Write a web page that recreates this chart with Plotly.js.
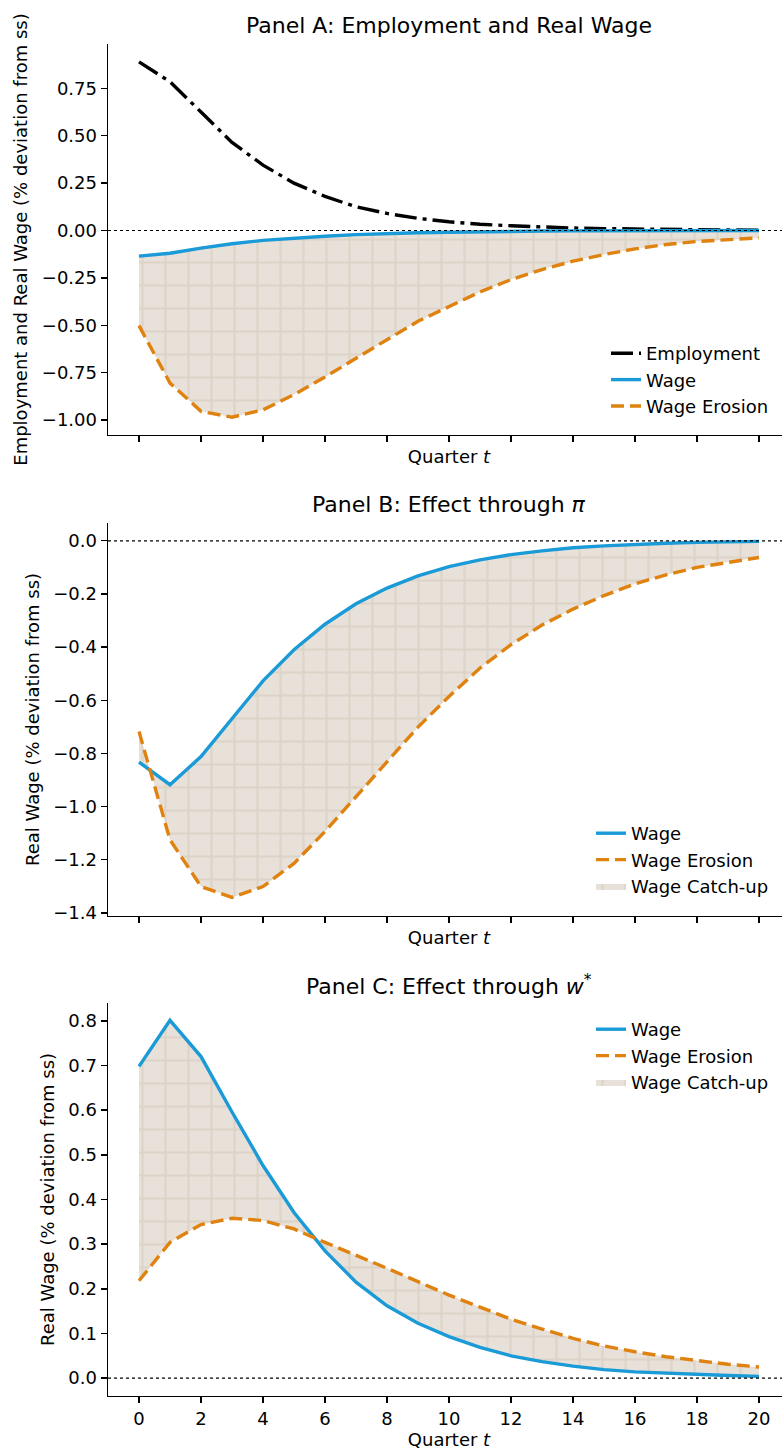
<!DOCTYPE html>
<html>
<head>
<meta charset="utf-8">
<script src="https://cdn.plot.ly/plotly-3.0.1.min.js"></script>
<style>
html,body{margin:0;padding:0;overflow:hidden;background:#fff;}
#chart{width:790px;height:1452px;}
</style>
</head>
<body>
<div id="chart"></div>
<script>
// ---- data ----
const quarters = [0,1,2,3,4,5,6,7,8,9,10,11,12,13,14,15,16,17,18,19,20];
const xTickVals = [0,2,4,6,8,10,12,14,16,18,20];

// Panel A
const employmentA = [0.89,0.785,0.625,0.465,0.345,0.25,0.18,0.125,0.09,0.064,0.046,0.033,0.025,0.018,0.013,0.010,0.007,0.005,0.004,0.003,0.002];
const wageA = [-0.135,-0.12,-0.093,-0.07,-0.052,-0.04,-0.03,-0.022,-0.016,-0.012,-0.009,-0.006,-0.005,-0.003,-0.002,-0.002,-0.001,-0.001,-0.001,-0.001,0.0];
const erosionA = [-0.502,-0.805,-0.954,-0.985,-0.946,-0.866,-0.773,-0.673,-0.576,-0.479,-0.40,-0.324,-0.259,-0.206,-0.162,-0.127,-0.097,-0.074,-0.058,-0.048,-0.039];

// Panel B
const wageB = [-0.833,-0.918,-0.812,-0.667,-0.527,-0.41,-0.314,-0.237,-0.178,-0.132,-0.097,-0.072,-0.052,-0.038,-0.026,-0.019,-0.013,-0.009,-0.006,-0.004,-0.002];
const erosionB = [-0.718,-1.125,-1.301,-1.342,-1.301,-1.214,-1.094,-0.962,-0.83,-0.701,-0.586,-0.479,-0.391,-0.317,-0.257,-0.206,-0.162,-0.128,-0.10,-0.08,-0.063];

// Panel C
const wageC = [0.698,0.801,0.72,0.596,0.476,0.371,0.285,0.215,0.162,0.123,0.093,0.069,0.05,0.037,0.027,0.019,0.014,0.011,0.008,0.006,0.004];
const erosionC = [0.218,0.304,0.344,0.358,0.353,0.334,0.304,0.276,0.246,0.216,0.186,0.159,0.132,0.11,0.089,0.072,0.059,0.048,0.039,0.031,0.025];

const panelTitles = ["Panel A: Employment and Real Wage", "Panel B: Effect through <i>π</i>", "Panel C: Effect through <i>w</i><sup>*</sup>"];
const yTitles = ["Employment and Real Wage (% deviation from ss)", "Real Wage (% deviation from ss)", "Real Wage (% deviation from ss)"];
const xTitle = "Quarter <i>t</i>";
const names = {emp:"Employment", wage:"Wage", erosion:"Wage Erosion", catchup:"Wage Catch-up"};

// ---- styles ----
const BLUE = "#1a9ad6", ORANGE = "#e0820f", BLACK = "#000000";
const FONT = "DejaVu Sans, sans-serif";
const LW = 3.4;
const pattern = {shape:"+", size:23, solidity:0.17, fgcolor:"#ddd3c6", bgcolor:"#e8e1da", fillmode:"replace"};

function panelTraces(k, wage, erosion, emp, showFillLegend){
  const xa = k===1 ? "x" : "x"+k, ya = k===1 ? "y" : "y"+k;
  const lg = k===1 ? "legend" : "legend"+k;
  const t = [];
  t.push({x:quarters, y:erosion, xaxis:xa, yaxis:ya, mode:"lines", line:{width:0, color:"rgba(0,0,0,0)"}, showlegend:false, hoverinfo:"skip"});
  t.push({x:quarters, y:wage, xaxis:xa, yaxis:ya, mode:"lines", fill:"tonexty", fillcolor:"#e8e1da", fillpattern:pattern,
          line:{width:0, color:"rgba(0,0,0,0)"}, name:names.catchup, showlegend:showFillLegend, legend:lg, legendrank:4});
  if (emp) t.push({x:quarters, y:emp, xaxis:xa, yaxis:ya, mode:"lines", line:{width:LW, color:BLACK, dash:"22px,6px,4px,6px"}, name:names.emp, legend:lg, legendrank:1});
  t.push({x:quarters, y:wage, xaxis:xa, yaxis:ya, mode:"lines", line:{width:LW, color:BLUE}, name:names.wage, legend:lg, legendrank:2});
  t.push({x:quarters, y:erosion, xaxis:xa, yaxis:ya, mode:"lines", line:{width:LW, color:ORANGE, dash:"13px,6px"}, name:names.erosion, legend:lg, legendrank:3});
  return t;
}

const data = [].concat(
  panelTraces(1, wageA, erosionA, employmentA, false),
  panelTraces(2, wageB, erosionB, null, true),
  panelTraces(3, wageC, erosionC, null, true)
);

const H = 1452, W = 790, ML = 108, PW = W - ML;
const doms = [[1-435/H, 1-44/H],[1-916/H, 1-523/H],[1-1396/H, 1-1003/H]];
const yRanges = [[-1.079,0.984],[-1.412,0.067],[-0.04,0.84]];
const yDticks = [0.25,0.2,0.1];
const yFormats = [".2f",".1f",".1f"];

function xaxis(k, showLabels){
  return {domain:[0,1], anchor: k===1?"y":"y"+k, range:[-1,21], tickmode:"array", tickvals:xTickVals,
    showticklabels:showLabels, ticks:"outside", ticklen:6, tickwidth:1.4, tickcolor:BLACK,
    showline:true, linecolor:BLACK, linewidth:1.4, showgrid:false, zeroline:false,
    tickfont:{family:FONT, size:18, color:BLACK},
    title:{text:xTitle, font:{family:FONT, size:18, color:BLACK}, standoff: showLabels ? 4 : 9}};
}
function yaxis(k){
  const i = k-1;
  return {domain:doms[i], anchor: k===1?"x":"x"+k, range:yRanges[i], dtick:yDticks[i], tick0:0, tickformat:yFormats[i],
    ticks:"outside", ticklen:6, tickwidth:1.4, tickcolor:BLACK,
    showline:true, linecolor:BLACK, linewidth:1.4, showgrid:false, zeroline:false,
    tickfont:{family:FONT, size:18, color:BLACK},
    title:{text:yTitles[i], font:{family:FONT, size:18, color:BLACK}, standoff:9}};
}

const titleY = [25, 505, 985];
const annotations = panelTitles.map((t,i)=>({text:t, xref:"paper", yref:"paper", x:0.5, y:1-titleY[i]/H, yanchor:"middle", xanchor:"center",
  showarrow:false, font:{family:FONT, size:22, color:BLACK}}));

const shapes = [1,2,3].map(k=>({type:"line", xref:(k===1?"x":"x"+k)+" domain", yref:(k===1?"y":"y"+k), x0:0, x1:1, y0:0, y1:0,
  line:{color:BLACK, width:1.2, dash:"dot"}, layer:"above"}));

function legend(xPx, topPx){
  return {xref:"paper", yref:"paper", x:(xPx-ML)/PW, y:1-topPx/H, xanchor:"left", yanchor:"top",
    bgcolor:"rgba(255,255,255,0)", borderwidth:0, font:{family:FONT, size:18, color:BLACK},
    traceorder:"normal", tracegroupgap:0};
}

const layout = {
  width:W, height:H, margin:{l:ML, r:0, t:0, b:0, autoexpand:false}, paper_bgcolor:"#fff", plot_bgcolor:"#fff",
  font:{family:FONT, size:18, color:BLACK},
  xaxis:xaxis(1,false), xaxis2:xaxis(2,false), xaxis3:xaxis(3,true),
  yaxis:yaxis(1), yaxis2:yaxis(2), yaxis3:yaxis(3),
  legend:legend(606, 335), legend2:legend(591, 815), legend3:legend(591, 1011),
  annotations:annotations, shapes:shapes, showlegend:true
};

Plotly.newPlot("chart", data, layout, {staticPlot:true, displayModeBar:false});
</script>
</body>
</html>
